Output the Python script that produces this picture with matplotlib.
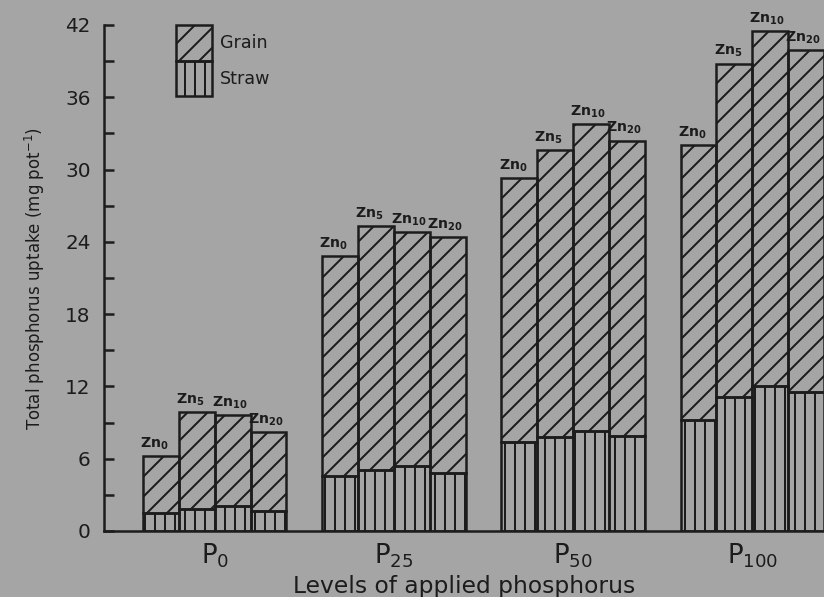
import numpy as np
import matplotlib.pyplot as plt

p_levels = ["P$_{0}$", "P$_{25}$", "P$_{50}$", "P$_{100}$"]
zn_labels = ["Zn$_{0}$", "Zn$_{5}$", "Zn$_{10}$", "Zn$_{20}$"]

# straw part (bottom of each bar) and total uptake, mg per pot
straw_p0 = [1.5, 1.8, 2.1, 1.7]
straw_p25 = [4.6, 5.1, 5.4, 4.8]
straw_p50 = [7.4, 7.8, 8.3, 7.9]
straw_p100 = [9.2, 11.1, 12.0, 11.5]

total_p0 = [6.2, 9.9, 9.6, 8.2]
total_p25 = [22.8, 25.3, 24.8, 24.4]
total_p50 = [29.3, 31.6, 33.8, 32.4]
total_p100 = [32.0, 38.8, 41.5, 39.9]

straw = np.array([straw_p0, straw_p25, straw_p50, straw_p100])
total = np.array([total_p0, total_p25, total_p50, total_p100])
grain = total - straw

bg = '#a5a5a5'
ink = '#1c1c1c'

plt.rcParams['hatch.linewidth'] = 1.2
plt.rcParams['hatch.color'] = ink
plt.rcParams['mathtext.default'] = 'regular'

fig = plt.figure(figsize=(824 / 120, 597 / 120), dpi=120)
fig.patch.set_facecolor(bg)
ax = fig.add_axes([104 / 824, 66 / 597, 1 - 104 / 824, (531 - 25) / 597])
ax.set_facecolor(bg)

for g in range(len(p_levels)):
    x = g * 5 + np.arange(4)
    ax.bar(x, straw[g], width=1, align='edge', facecolor='none',
           edgecolor=ink, linewidth=1.5, hatch='||', label='Straw' if g == 0 else None)
    ax.bar(x, grain[g], bottom=straw[g], width=1, align='edge', facecolor='none',
           edgecolor=ink, linewidth=1.5, hatch='//', label='Grain' if g == 0 else None)
    for j in range(4):
        ax.text(x[j] - 0.08, total[g][j] + 0.35, zn_labels[j], fontsize=8.5,
                fontweight='bold', color=ink, ha='left', va='bottom')

ax.set_xlim(-1.09, 19.0)
ax.set_ylim(0, 42)

ax.set_yticks(np.arange(0, 43, 6))
ax.set_yticks(np.arange(3, 42, 6), minor=True)
ax.tick_params(axis='y', which='both', direction='in', length=6, width=1.5,
               color=ink, labelcolor=ink, labelsize=12, pad=8)
ax.set_xticks([g * 5 + 2 for g in range(4)])
ax.set_xticklabels(p_levels)
ax.tick_params(axis='x', length=0, labelsize=15.5, labelcolor=ink, pad=6)

for s in ['top', 'right']:
    ax.spines[s].set_visible(False)
for s in ['left', 'bottom']:
    ax.spines[s].set_linewidth(1.5)
    ax.spines[s].set_color(ink)

ax.set_ylabel('Total phosphorus uptake (mg pot$^{-1}$)', fontsize=10, color=ink, labelpad=11)
ax.set_xlabel('Levels of applied phosphorus', fontsize=14, color=ink, labelpad=3)

handles, labels = ax.get_legend_handles_labels()
leg = fig.legend(handles[::-1], labels[::-1], loc='upper left',
                 bbox_to_anchor=(176 / 824, 1 - 25 / 597), frameon=False,
                 fontsize=10.5, handlelength=2.05, handleheight=2.75, labelspacing=0,
                 handletextpad=0.45, borderpad=0, borderaxespad=0)
for t in leg.get_texts():
    t.set_color(ink)

fig.savefig('out.png', dpi=120, facecolor=bg)
